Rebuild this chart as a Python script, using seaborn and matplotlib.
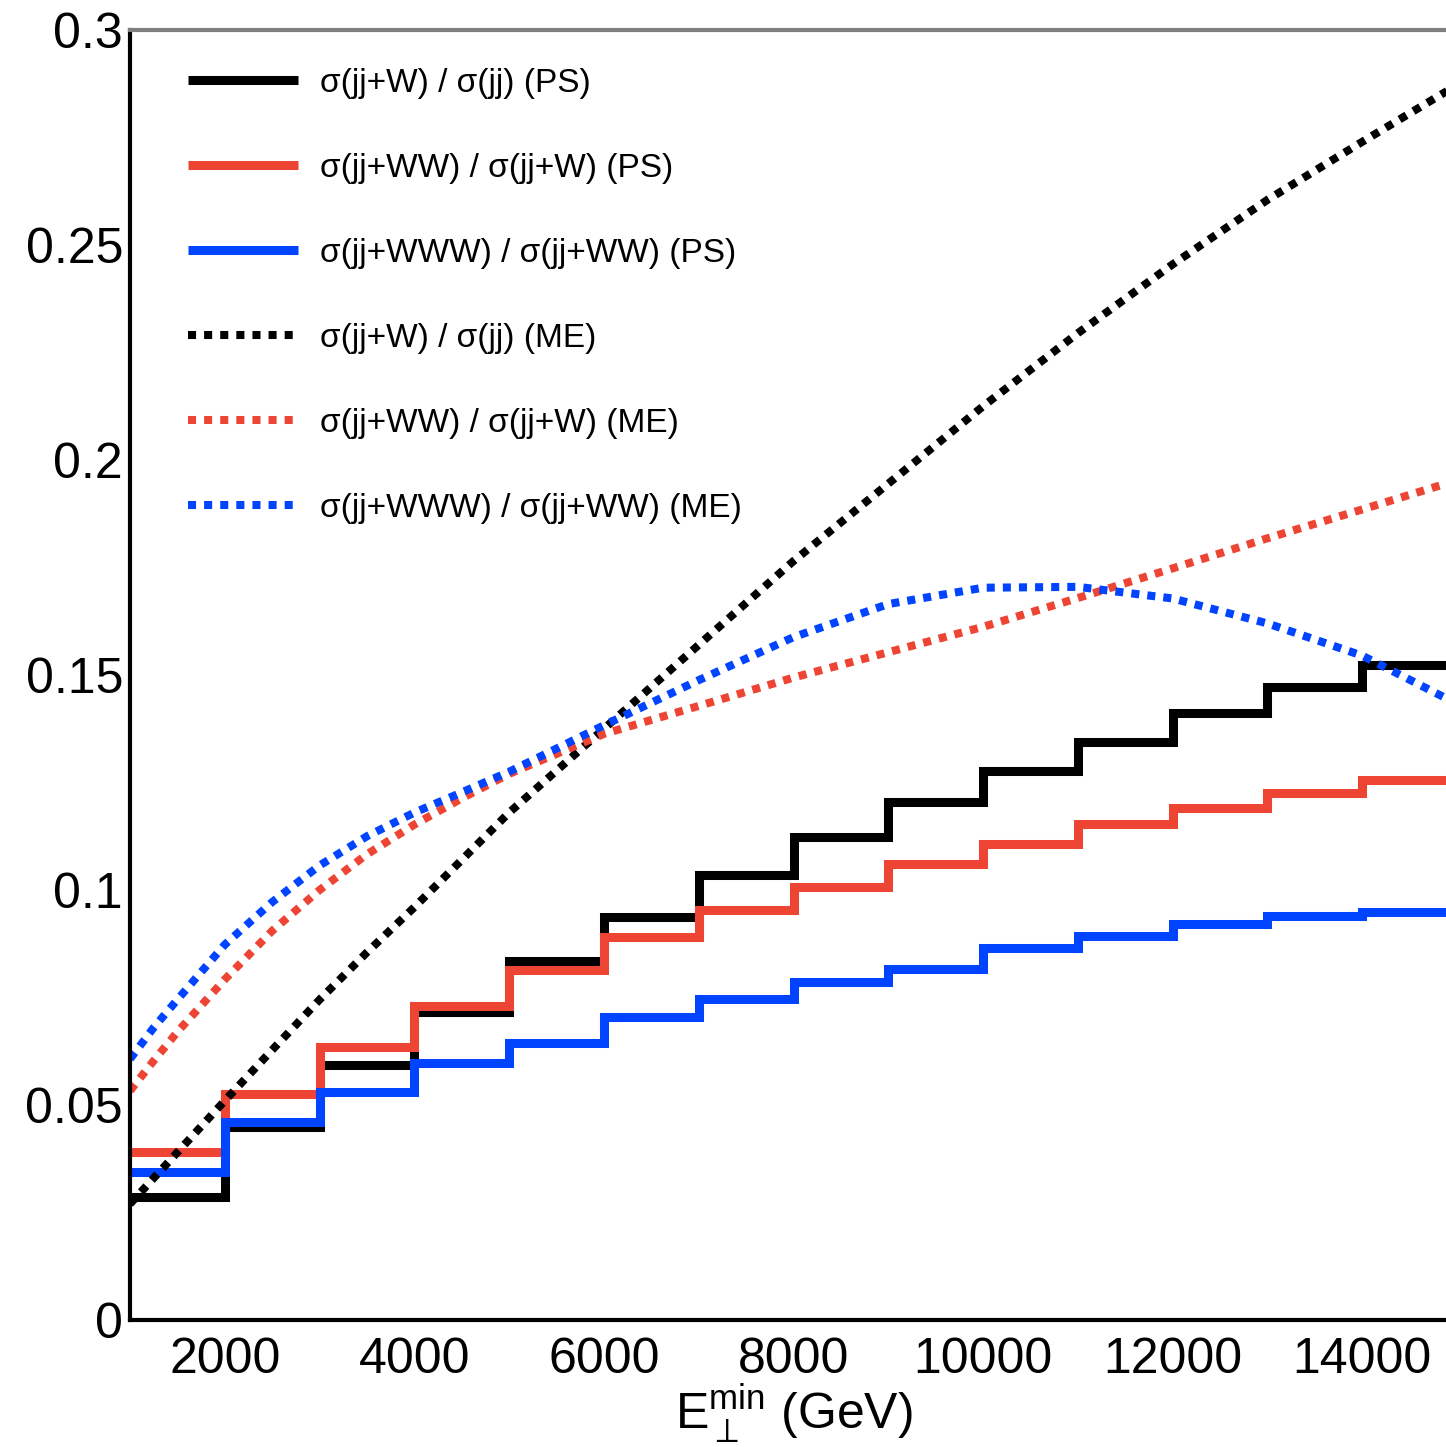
import numpy as np
import pandas as pd
import matplotlib
matplotlib.use("Agg")
import matplotlib.pyplot as plt
from matplotlib.ticker import MultipleLocator, FuncFormatter
import seaborn as sns

# ---------------- data ----------------
bin_edges = [1000, 2000, 3000, 4000, 5000, 6000, 7000, 8000, 9000, 10000,
             11000, 12000, 13000, 14000, 15000]
ps_w_over_jj = [0.0286, 0.0449, 0.0593, 0.0716, 0.0835, 0.0937, 0.1035,
                0.1123, 0.1205, 0.1276, 0.1344, 0.1412, 0.1472, 0.1523]
ps_ww_over_w = [0.0391, 0.0526, 0.0634, 0.0731, 0.0814, 0.0891, 0.0953,
                0.1007, 0.1060, 0.1108, 0.1153, 0.1190, 0.1226, 0.1256]
ps_www_over_ww = [0.0344, 0.0460, 0.0530, 0.0598, 0.0644, 0.0705, 0.0747,
                  0.0787, 0.0816, 0.0866, 0.0893, 0.0921, 0.0940, 0.0949]

me_x = [1000, 1250, 1500, 2000, 2500, 3000, 3500, 4000, 4500, 5000, 6000,
        7000, 8000, 9000, 10000, 11000, 12000, 13000, 14000, 15000]
me_w_over_jj = [0.0270, 0.0330, 0.0390, 0.0510, 0.0628, 0.0745, 0.0855,
                0.0960, 0.1070, 0.1180, 0.1375, 0.1570, 0.1765, 0.1945,
                0.2125, 0.2295, 0.2455, 0.2605, 0.2740, 0.2872]
me_ww_over_w = [0.0533, 0.0603, 0.0670, 0.0792, 0.0905, 0.1000, 0.1083,
                0.1152, 0.1213, 0.1270, 0.1363, 0.1428, 0.1494, 0.1553,
                0.1612, 0.1679, 0.1748, 0.1818, 0.1885, 0.1953]
me_www_over_ww = [0.0607, 0.0680, 0.0745, 0.0873, 0.0972, 0.1057, 0.1125,
                  0.1180, 0.1227, 0.1275, 0.1383, 0.1488, 0.1588, 0.1665,
                  0.1703, 0.1705, 0.1678, 0.1620, 0.1545, 0.1433]

labels_ps = ["σ(jj+W) / σ(jj) (PS)",
             "σ(jj+WW) / σ(jj+W) (PS)",
             "σ(jj+WWW) / σ(jj+WW) (PS)"]
labels_me = ["σ(jj+W) / σ(jj) (ME)",
             "σ(jj+WW) / σ(jj+W) (ME)",
             "σ(jj+WWW) / σ(jj+WW) (ME)"]

x_ticks_major = 2000
y_ticks_major = 0.05

# ---------------- style ----------------
sns.set_style("white")
plt.rcParams['font.family'] = ['Liberation Sans', 'DejaVu Sans']
plt.rcParams['mathtext.fontset'] = 'custom'
plt.rcParams['mathtext.rm'] = 'Liberation Sans'
plt.rcParams['mathtext.it'] = 'Liberation Sans:italic'
plt.rcParams['mathtext.bf'] = 'Liberation Sans:bold'
plt.rcParams['text.color'] = 'black'
plt.rcParams['axes.labelcolor'] = 'black'
plt.rcParams['xtick.color'] = 'black'
plt.rcParams['ytick.color'] = 'black'

BLACK = "#000000"
RED = "#EE4433"
BLUE = "#0044FF"
colors = [BLACK, RED, BLUE]

W, H = 1446, 1447
fig = plt.figure(figsize=(W / 100, H / 100), dpi=100)
ax = fig.add_axes([130 / W, 127 / H, 1327 / W, 1290 / H])

# PS step histograms
ps_series = [ps_w_over_jj, ps_ww_over_w, ps_www_over_ww]
for vals, col, lab in zip(ps_series, colors, labels_ps):
    df = pd.DataFrame({"x": bin_edges, "y": list(vals) + [vals[-1]]})
    sns.lineplot(data=df, x="x", y="y", ax=ax, color=col, lw=6.5,
                 drawstyle="steps-post", estimator=None, sort=False,
                 label=lab, solid_joinstyle="miter", solid_capstyle="butt")

# ME dotted curves
me_series = [me_w_over_jj, me_ww_over_w, me_www_over_ww]
for vals, col, lab in zip(me_series, colors, labels_me):
    df = pd.DataFrame({"x": me_x, "y": vals})
    sns.lineplot(data=df, x="x", y="y", ax=ax, color=col, lw=5.8,
                 linestyle=(0, (1, 1)), estimator=None, sort=False,
                 label=lab, dash_capstyle="butt")

ax.set_xlim(1000, 15000)
ax.set_ylim(0, 0.3)

ax.xaxis.set_major_locator(MultipleLocator(x_ticks_major))
ax.xaxis.set_minor_locator(MultipleLocator(500))
ax.yaxis.set_major_locator(MultipleLocator(y_ticks_major))
ax.yaxis.set_minor_locator(MultipleLocator(0.01))
ax.yaxis.set_major_formatter(FuncFormatter(lambda v, p: f"{v:g}"))
ax.xaxis.set_major_formatter(FuncFormatter(lambda v, p: f"{v:g}"))

ax.tick_params(which="both", direction="in", colors="#222222",
               labelcolor="black", width=1.6)
ax.tick_params(which="major", length=25, labelsize=36)
ax.tick_params(which="minor", length=13)
ax.tick_params(axis="x", which="major", pad=12)
ax.tick_params(axis="y", which="major", pad=5)

for s in ["left", "bottom"]:
    ax.spines[s].set_color("black")
    ax.spines[s].set_linewidth(3)
ax.spines["top"].set_color("#808080")
ax.spines["top"].set_linewidth(3)
ax.spines["right"].set_visible(False)

ax.set_ylabel("")
ax.set_xlabel(r"$\mathrm{E}_{\perp}^{\mathrm{min}}$ (GeV)", fontsize=36,
              labelpad=0, color="black")

handles, labs = ax.get_legend_handles_labels()
leg = ax.legend(handles, labs, loc="upper left",
                bbox_to_anchor=(0.0437, 0.9706), frameon=False,
                fontsize=24, handlelength=3.3, handletextpad=0.66,
                labelspacing=1.62, borderpad=0, borderaxespad=0,
                labelcolor="black")

fig.savefig("out.png", dpi=100)
